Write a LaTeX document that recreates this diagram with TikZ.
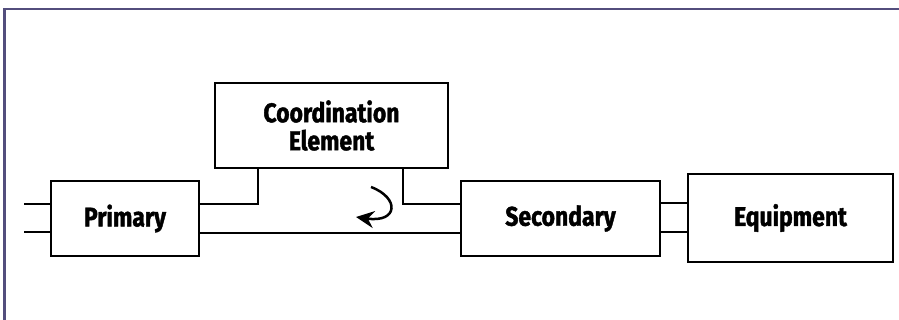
\documentclass[tikz,border=0pt]{standalone}
\usepackage{fontspec}
\setmainfont{Fira Sans}[FakeStretch=0.85,UprightFont={* Bold},FakeBold=1.5]
\usetikzlibrary{arrows.meta,calc}
\definecolor{framec}{HTML}{534E7D}
\begin{document}
\begin{tikzpicture}[x=1pt,y=1pt,
  blk/.style={draw=black,line width=2.5pt,inner sep=0pt,align=center,font=\fontsize{27}{28}\selectfont},
  wire/.style={draw=black,line width=2.5pt}]
\useasboundingbox (0,0) rectangle (899,320);
\draw[framec,line width=2.5pt] (4.5,0) -- (4.5,311) -- (899,311);
\node[blk,minimum width=148pt,minimum height=75pt] (prim) at (125,101.5) {Primary};
\node[blk,minimum width=233pt,minimum height=85pt] (coord) at (331.5,194.5) {Coordination\\Element};
\node[blk,minimum width=199pt,minimum height=75pt] (sec) at (560.5,101.5) {Secondary};
\node[blk,minimum width=205pt,minimum height=88pt] (equip) at (790.5,102) {Equipment};
\coordinate (l1) at (24,116);
\coordinate (l2) at (24,88);
\draw[wire] (l1) -- (l1 -| prim.west);
\draw[wire] (l2) -- (l2 -| prim.west);
\draw[wire] (coord.south -| 258,0) |- (prim.east |- 0,116);
\draw[wire] (coord.south -| 403,0) |- (sec.west |- 0,116);
\draw[wire] (prim.east |- 0,87) -- (sec.west |- 0,87);
\draw[wire] (sec.east |- 0,117) -- (equip.west |- 0,117);
\draw[wire] (sec.east |- 0,88) -- (equip.west |- 0,88);
\coordinate (a1) at (371,133);
\coordinate (a2) at (356,103);
\draw[line width=2.5pt,-{Stealth[length=18pt,width=17pt,inset=6pt]}] (a1) .. controls (400,122) and (398,97) .. (a2);
\end{tikzpicture}
\end{document}
